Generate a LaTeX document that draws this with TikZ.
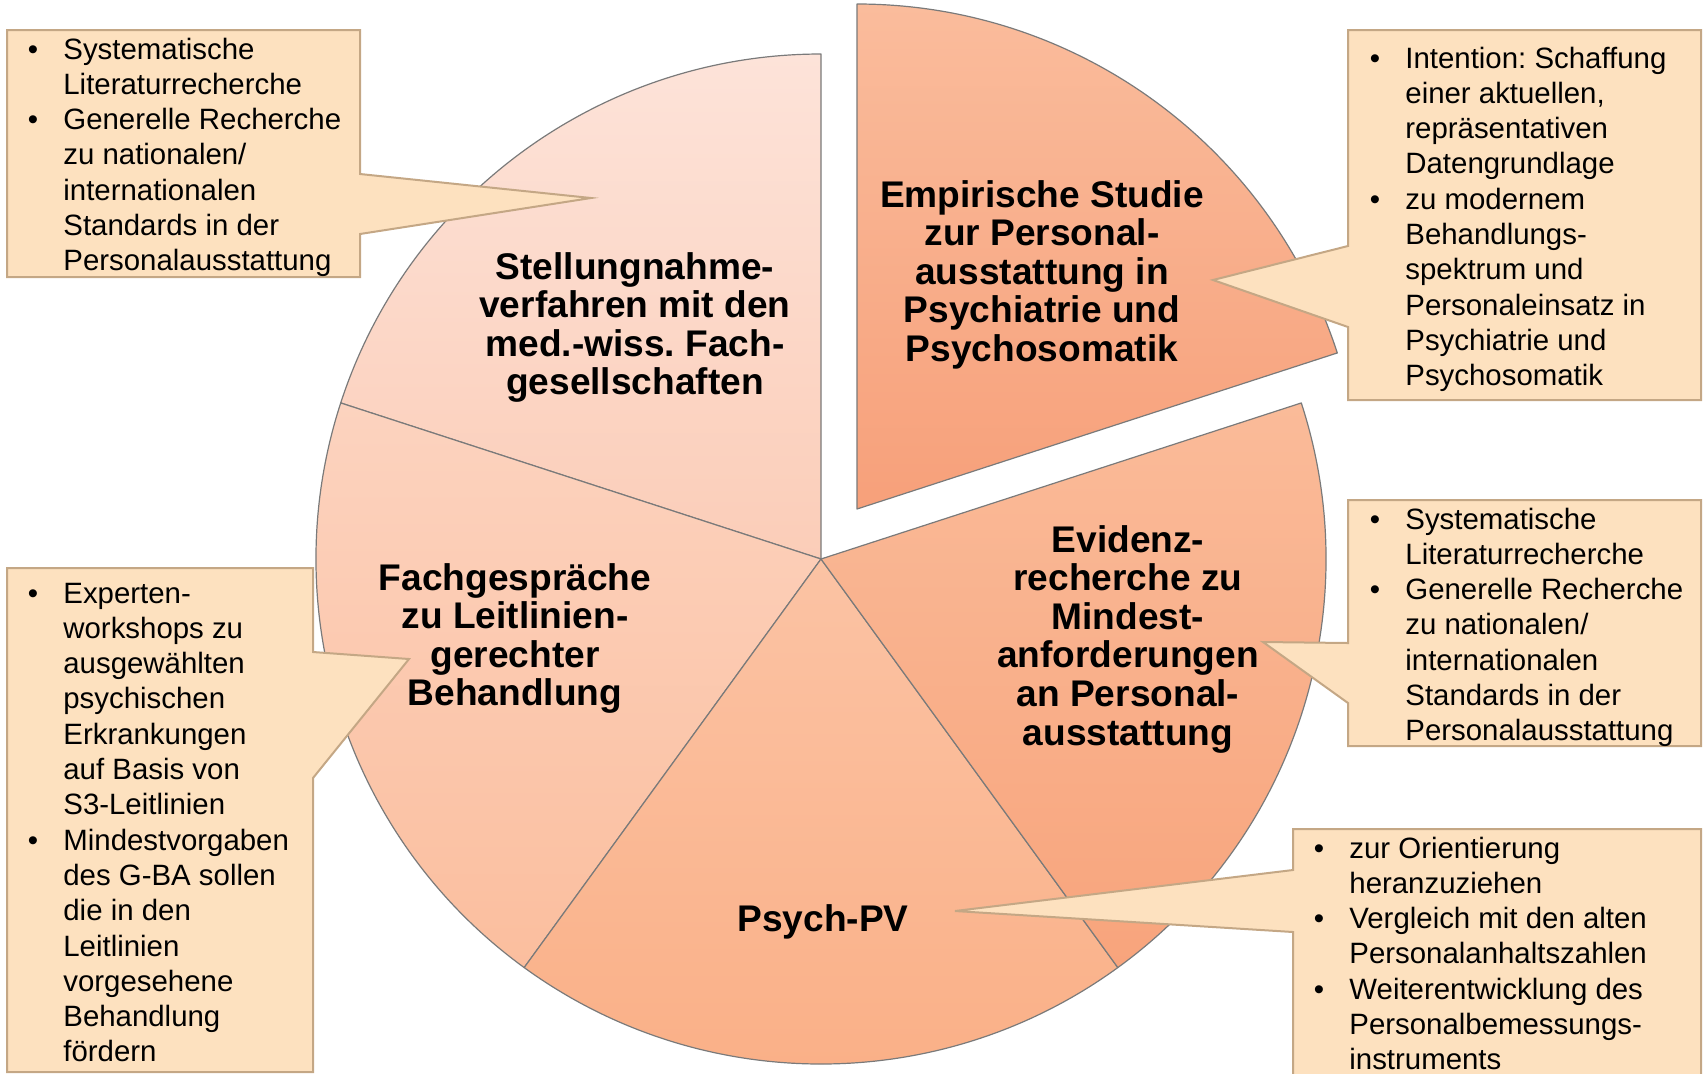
\documentclass[tikz,border=0pt]{standalone}
\usepackage{fontspec}
\setmainfont{Liberation Sans}
\frenchspacing
\definecolor{boxfill}{HTML}{FDE1BF}
\definecolor{boxedge}{HTML}{C4A785}
\definecolor{sliceedge}{HTML}{7A7A7A}
\definecolor{sAtop}{HTML}{FDE3D9}\definecolor{sAbot}{HTML}{FBCDB8}
\definecolor{sBtop}{HTML}{FCD3BF}\definecolor{sBbot}{HTML}{FBBE9E}
\definecolor{sCtop}{HTML}{FBC3A4}\definecolor{sCbot}{HTML}{FAAF86}
\definecolor{sDtop}{HTML}{FABB99}\definecolor{sDbot}{HTML}{F8A47C}
\definecolor{sEtop}{HTML}{FABC9C}\definecolor{sEbot}{HTML}{F7A07A}
\newcommand{\bul}{\llap{\textbullet\hspace{12.6pt}}}
\newcommand{\callfont}{\fontsize{14.7pt}{17.65pt}\selectfont\frenchspacing}
\newcommand{\slicefont}{\fontsize{18.55pt}{19.3pt}\selectfont\bfseries\frenchspacing}
\tikzset{
  slice/.style={draw=sliceedge, line width=0.6pt, line join=round},
  callout/.style={draw=boxedge, fill=boxfill, line width=1pt, line join=miter},
  calltext/.style={anchor=base west, inner sep=0pt, font=\callfont},
  slicetext/.style={anchor=base, inner sep=0pt, font=\slicefont},
}
\begin{document}
\begin{tikzpicture}[x=0.5pt, y=-0.5pt]
\useasboundingbox (0,0) rectangle (1703,1073);
\coordinate (C) at (821,559);
\coordinate (CE) at (857,509);
% pie slices
\path[slice, top color=sAtop, bottom color=sAbot] (C) -- ++(-90:505) arc[start angle=-90, end angle=-162, radius=505] -- cycle;
\path[slice, top color=sBtop, bottom color=sBbot] (C) -- ++(-162:505) arc[start angle=-162, end angle=-234, radius=505] -- cycle;
\path[slice, top color=sCtop, bottom color=sCbot] (C) -- ++(-234:505) arc[start angle=-234, end angle=-306, radius=505] -- cycle;
\path[slice, top color=sDtop, bottom color=sDbot] (C) -- ++(-306:505) arc[start angle=-306, end angle=-378, radius=505] -- cycle;
\path[slice, top color=sEtop, bottom color=sEbot] (CE) -- ++(-18:505) arc[start angle=-18, end angle=-90, radius=505] -- cycle;
% slice labels
\node[slicetext] (s1) at (635,279) {\begin{tabular}[t]{@{}c@{}}Stellungnahme-\\verfahren mit den\\med.-wiss. Fach-\\gesellschaften\end{tabular}};
\node[slicetext] (s2) at (1042,207) {\begin{tabular}[t]{@{}c@{}}Empirische Studie\\zur Personal-\\ausstattung in\\Psychiatrie und\\Psychosomatik\end{tabular}};
\node[slicetext] (s3) at (515,590) {\begin{tabular}[t]{@{}c@{}}Fachgespräche\\zu Leitlinien-\\gerechter\\Behandlung\end{tabular}};
\node[slicetext] (s4) at (1128,552) {\begin{tabular}[t]{@{}c@{}}Evidenz-\\recherche zu\\Mindest-\\anforderungen\\an Personal-\\ausstattung\end{tabular}};
\node[slicetext] (s5) at (823,931) {\begin{tabular}[t]{@{}c@{}}Psych-PV\end{tabular}};
% callouts
\path[callout] (7,30) -- (360,30) -- (360,174) -- (591,198) -- (360,234) -- (360,277) -- (7,277) -- cycle;
\path[callout] (1348,30) -- (1701,30) -- (1701,400) -- (1348,400) -- (1348,327) -- (1213,280) -- (1348,246) -- cycle;
\path[callout] (1348,500) -- (1701,500) -- (1701,746) -- (1348,746) -- (1348,703) -- (1263,642) -- (1348,643) -- cycle;
\path[callout] (7,568) -- (313,568) -- (313,652) -- (409,659) -- (313,778) -- (313,1072) -- (7,1072) -- cycle;
\path[callout] (1293,829) -- (1701,829) -- (1701,1090) -- (1293,1090) -- (1293,932) -- (955,911) -- (1293,870) -- cycle;
% callout texts
\node[calltext] (t1) at (63,59) {\begin{tabular}[t]{@{}l@{}}\bul Systematische\\Literaturrecherche\\\bul Generelle Recherche\\zu nationalen/\\internationalen\\Standards in der\\Personalausstattung\end{tabular}};
\node[calltext] (t2) at (1405,68) {\begin{tabular}[t]{@{}l@{}}\bul Intention: Schaffung\\einer aktuellen,\\repräsentativen\\Datengrundlage\\\bul zu modernem\\Behandlungs-\\spektrum und\\Personaleinsatz in\\Psychiatrie und\\Psychosomatik\end{tabular}};
\node[calltext] (t3) at (1405,529) {\begin{tabular}[t]{@{}l@{}}\bul Systematische\\Literaturrecherche\\\bul Generelle Recherche\\zu nationalen/\\internationalen\\Standards in der\\Personalausstattung\end{tabular}};
\node[calltext] (t4) at (63,603) {\begin{tabular}[t]{@{}l@{}}\bul Experten-\\workshops zu\\ausgewählten\\psychischen\\Erkrankungen\\auf Basis von\\S3-Leitlinien\\\bul Mindestvorgaben\\des G-BA sollen\\die in den\\Leitlinien\\vorgesehene\\Behandlung\\fördern\end{tabular}};
\node[calltext] (t5) at (1349,858) {\begin{tabular}[t]{@{}l@{}}\bul zur Orientierung\\heranzuziehen\\\bul Vergleich mit den alten\\Personalanhaltszahlen\\\bul Weiterentwicklung des\\Personalbemessungs-\\instruments\end{tabular}};
\end{tikzpicture}
\end{document}
